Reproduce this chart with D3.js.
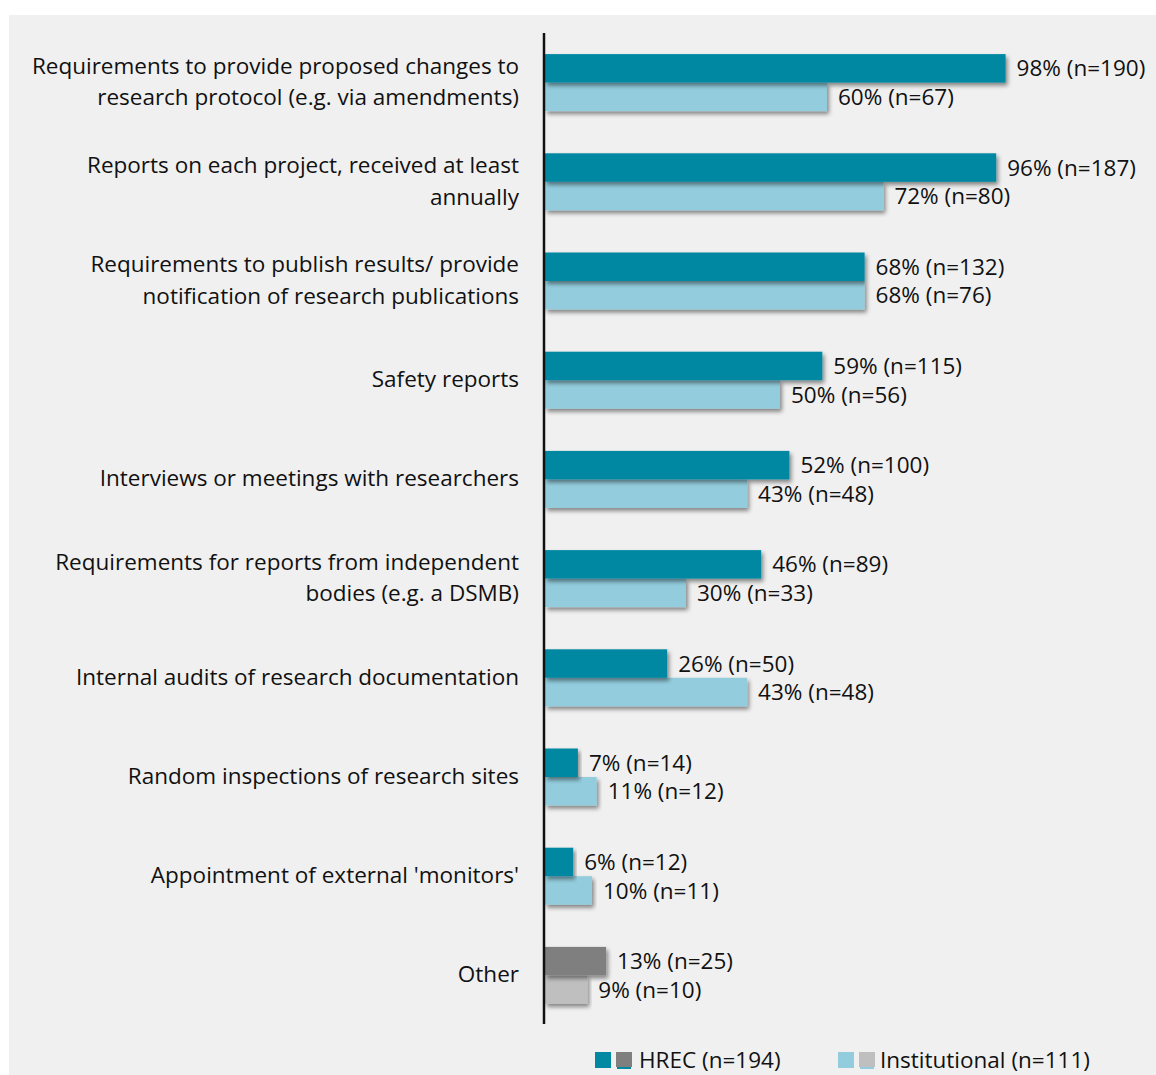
<!DOCTYPE html>
<html>
<head>
<meta charset="utf-8">
<script src="https://cdn.jsdelivr.net/npm/d3@7"></script>
<style>
  html, body { margin: 0; padding: 0; background: #ffffff; }
  svg { display: block; }
  text { font-family: "Open Sans", "DejaVu Sans", sans-serif; fill: #111; }
</style>
</head>
<body>
<svg id="chart" width="1156" height="1075"></svg>
<script>
// Oversight mechanisms reported by HRECs and institutions
const categories = [
  ["Requirements to provide proposed changes to", "research protocol (e.g. via amendments)"],
  ["Reports on each project, received at least", "annually"],
  ["Requirements to publish results/ provide", "notification of research publications"],
  ["Safety reports"],
  ["Interviews or meetings with researchers"],
  ["Requirements for reports from independent", "bodies (e.g. a DSMB)"],
  ["Internal audits of research documentation"],
  ["Random inspections of research sites"],
  ["Appointment of external 'monitors'"],
  ["Other"]
];
const hrecPct = [98, 96, 68, 59, 52, 46, 26, 7, 6, 13];
const hrecN   = [190, 187, 132, 115, 100, 89, 50, 14, 12, 25];
const instPct = [60, 72, 68, 50, 43, 30, 43, 11, 10, 9];
const instN   = [67, 80, 76, 56, 48, 33, 48, 12, 11, 10];
const seriesNames = ["HREC (n=194)", "Institutional (n=111)"];

const colours = {
  hrec: "#0188a2", inst: "#93cddd",
  hrecOther: "#7f7f7f", instOther: "#bfbfbf"
};

const FS = 22.5;
const svg = d3.select("#chart");

// drop shadow under bars
const defs = svg.append("defs");
const f = defs.append("filter").attr("id", "shadow")
  .attr("x", "-5%").attr("y", "-20%").attr("width", "115%").attr("height", "160%");
f.append("feDropShadow").attr("dx", 2).attr("dy", 3).attr("stdDeviation", 2)
  .attr("flood-color", "#000").attr("flood-opacity", 0.45);

// panel background
svg.append("rect").attr("x", 9).attr("y", 15).attr("width", 1147).attr("height", 1060)
  .attr("fill", "#f0f0f0");

const x = d3.scaleLinear().domain([0, 100]).range([545, 1015]);
const y = d3.scaleBand().domain(d3.range(categories.length)).range([33, 1025]).padding(0);
const sub = d3.scaleBand().domain(["hrec", "inst"]).range([0, 57]);

const rows = categories.map((c, i) => ({
  i, label: c,
  bars: [
    { key: "hrec", pct: hrecPct[i], n: hrecN[i] },
    { key: "inst", pct: instPct[i], n: instN[i] }
  ]
}));

const g = svg.append("g");
const group = g.selectAll("g.cat").data(rows).join("g")
  .attr("class", "cat")
  .attr("transform", d => `translate(0,${y(d.i) + y.bandwidth() / 2 - 28.5})`);

// light bar first, dark bar on top
group.selectAll("rect").data(d => d.bars.slice().reverse().map(b => ({ ...b, other: d.label[0] === "Other" })))
  .join("rect")
  .attr("x", x(0))
  .attr("y", b => sub(b.key))
  .attr("width", b => x(b.pct) - x(0))
  .attr("height", sub.bandwidth())
  .attr("fill", b => b.other ? colours[b.key + "Other"] : colours[b.key])
  .attr("filter", "url(#shadow)");

group.selectAll("text.val").data(d => d.bars)
  .join("text")
  .attr("class", "val")
  .attr("x", b => x(b.pct) + 11)
  .attr("y", b => sub(b.key) + sub.bandwidth() / 2)
  .attr("dy", "0.36em")
  .attr("font-size", FS)
  .text(b => `${b.pct}% (n=${b.n})`);

// category labels
group.each(function (d) {
  const lines = d.label;
  const t = d3.select(this).append("text")
    .attr("text-anchor", "end")
    .attr("font-size", FS)
    .attr("x", 519);
  const lh = 31.5;
  lines.forEach((ln, k) => {
    t.append("tspan").attr("x", 519)
      .attr("y", 27.5 + (k - (lines.length - 1) / 2) * lh)
      .attr("dy", "0.36em")
      .text(ln);
  });
});

// vertical axis line
svg.append("line").attr("x1", 544).attr("x2", 544).attr("y1", 33).attr("y2", 1024)
  .attr("stroke", "#111").attr("stroke-width", 2.5);

// legend: each series shows its regular and "Other" colour
const legend = svg.append("g").attr("transform", "translate(0,1052)");
function swatchPair(x0, c1, c2) {
  legend.append("rect").attr("x", x0).attr("y", 0).attr("width", 16).attr("height", 16).attr("fill", c1);
  legend.append("rect").attr("x", x0 + 22).attr("y", 2).attr("width", 14).attr("height", 15).attr("fill", c1);
  legend.append("rect").attr("x", x0 + 21).attr("y", 0).attr("width", 16).attr("height", 15).attr("fill", c2);
}
swatchPair(595, colours.hrec, colours.hrecOther);
legend.append("text").attr("x", 639).attr("y", 8).attr("dy", "0.36em").attr("font-size", FS).text(seriesNames[0]);
swatchPair(838, colours.inst, colours.instOther);
legend.append("text").attr("x", 880).attr("y", 8).attr("dy", "0.36em").attr("font-size", FS).text(seriesNames[1]);
</script>
</body>
</html>
